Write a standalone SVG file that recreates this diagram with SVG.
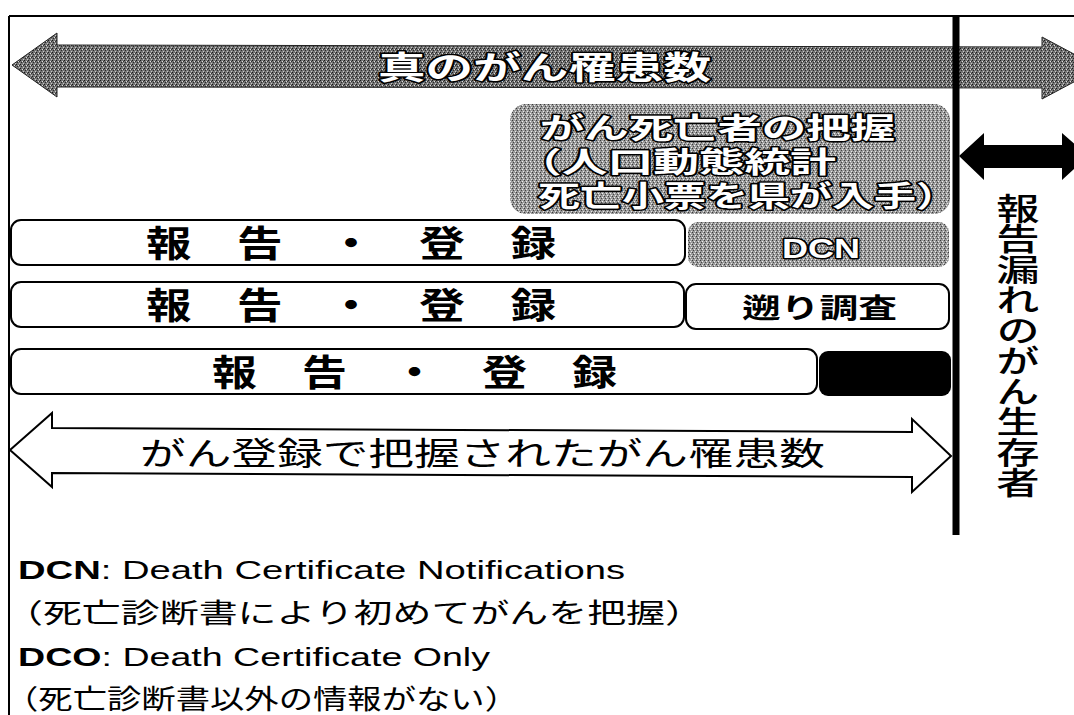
<svg xmlns="http://www.w3.org/2000/svg" width="1074" height="715" viewBox="0 0 1074 715">
<style>
.jp{font-family:"Noto Sans CJK JP","Noto Sans",sans-serif;}
.lat{font-family:"Liberation Sans","Noto Sans CJK JP",sans-serif;}
.box{fill:#fff;stroke:#000;stroke-width:2;}
.outl{fill:#fff;stroke:#000;stroke-width:3;paint-order:stroke;stroke-linejoin:round;font-weight:bold;}
</style>
<defs>
<pattern id="ditherDark" width="4" height="4" patternUnits="userSpaceOnUse">
<rect width="4" height="4" fill="#747474"/>
<rect x="0" y="0" width="1" height="1" fill="#1a1a1a"/>
<rect x="2" y="1" width="1" height="1" fill="#e0e0e0"/>
<rect x="1" y="2" width="1" height="1" fill="#2a2a2a"/>
<rect x="3" y="3" width="1" height="1" fill="#c8c8c8"/>
<rect x="3" y="1" width="1" height="1" fill="#333"/>
</pattern>
<pattern id="ditherLight" width="4" height="4" patternUnits="userSpaceOnUse">
<rect width="4" height="4" fill="#9a9a9a"/>
<rect x="0" y="0" width="1" height="1" fill="#3a3a3a"/>
<rect x="2" y="1" width="1" height="1" fill="#f0f0f0"/>
<rect x="1" y="2" width="1" height="1" fill="#444"/>
<rect x="3" y="3" width="1" height="1" fill="#e8e8e8"/>
</pattern>
</defs>
<rect width="1074" height="715" fill="#fff"/>

<g id="frame">
<line x1="9" y1="16" x2="1074" y2="16" stroke="#000" stroke-width="2"/>
<line x1="9" y1="16" x2="9" y2="715" stroke="#000" stroke-width="2"/>
</g>

<g id="true-incidence">
<polygon points="12,65 57,33 57,45 1042,47 1042,37 1100,68 1042,99 1042,88 57,87 57,97" fill="url(#ditherDark)" stroke="#222" stroke-width="1"/>
<text class="jp outl" x="378" y="79" font-size="32" textLength="333" lengthAdjust="spacingAndGlyphs">真のがん罹患数</text>
</g>

<g id="death-capture">
<rect x="510" y="104" width="440" height="110" rx="16" fill="url(#ditherLight)"/>
<text class="lat outl" font-size="29"><tspan x="540" y="139" textLength="355" lengthAdjust="spacingAndGlyphs">がん死亡者の把握</tspan><tspan x="516" y="173" textLength="320" lengthAdjust="spacingAndGlyphs">（人口動態統計</tspan><tspan x="538" y="207" textLength="420" lengthAdjust="spacingAndGlyphs">死亡小票を県が入手）</tspan></text>
</g>

<g id="row1-report">
<rect class="box" x="11" y="220" width="674" height="45" rx="10"/>
<text class="jp" x="146" y="257" font-size="36" font-weight="bold" textLength="410" lengthAdjust="spacingAndGlyphs">報　告　・　登　録</text>
</g>
<g id="row1-dcn">
<rect x="688" y="222" width="261" height="45" rx="10" fill="url(#ditherLight)"/>
<text class="lat outl" x="782" y="258" font-size="28" textLength="78" lengthAdjust="spacingAndGlyphs">DCN</text>
</g>

<g id="row2-report">
<rect class="box" x="11" y="282" width="673" height="45" rx="10"/>
<text class="jp" x="146" y="319" font-size="36" font-weight="bold" textLength="410" lengthAdjust="spacingAndGlyphs">報　告　・　登　録</text>
</g>
<g id="row2-retro">
<rect class="box" x="686" y="284" width="263" height="45" rx="10"/>
<text class="jp" x="742" y="318" font-size="27" font-weight="bold" textLength="155" lengthAdjust="spacingAndGlyphs">遡り調査</text>
</g>

<g id="row3-report">
<rect class="box" x="11" y="349" width="806" height="45" rx="10"/>
<text class="jp" x="212" y="386" font-size="36" font-weight="bold" textLength="405" lengthAdjust="spacingAndGlyphs">報　告　・　登　録</text>
</g>
<g id="row3-dco">
<rect x="819" y="351" width="132" height="45" rx="9" fill="#000"/>
</g>

<g id="registered-incidence">
<polygon points="10,450 52,413 52,428 912,432 912,419 951,456 912,492 912,477 52,473 52,487" fill="#fff" stroke="#000" stroke-width="2"/>
<text class="jp" x="140" y="465" font-size="32" textLength="685" lengthAdjust="spacingAndGlyphs">がん登録で把握されたがん罹患数</text>
</g>

<g id="connectors">
<line x1="956" y1="16" x2="956" y2="535" stroke="#000" stroke-width="7"/>
<polygon points="959,156 984,133 984,145 1062,145 1062,133 1088,156 1062,180 1062,168 984,168 984,180" fill="#000"/>
</g>

<g id="unreported-label">
<g transform="translate(1018 0) scale(1.42 1)">
<text class="jp" x="0" y="193" font-size="30.5" font-weight="500" writing-mode="vertical-rl">報告漏れのがん生存者</text>
</g>
</g>

<g id="legend">
<text class="lat" x="18" y="579" font-size="25" textLength="607" lengthAdjust="spacingAndGlyphs"><tspan font-weight="bold">DCN</tspan>: Death Certificate Notifications</text>
<text class="jp" x="4" y="623" font-size="27" textLength="700" lengthAdjust="spacingAndGlyphs">（死亡診断書により初めてがんを把握）</text>
<text class="lat" x="18" y="666" font-size="25" textLength="472" lengthAdjust="spacingAndGlyphs"><tspan font-weight="bold">DCO</tspan>: Death Certificate Only</text>
<text class="jp" x="4" y="709" font-size="27" textLength="515" lengthAdjust="spacingAndGlyphs">（死亡診断書以外の情報がない）</text>
</g>
</svg>
